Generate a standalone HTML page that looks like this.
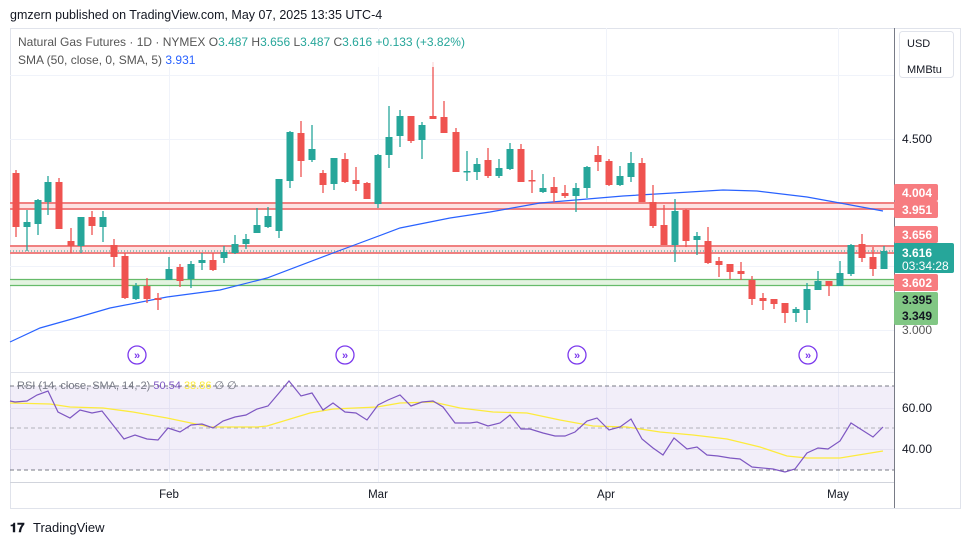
<!DOCTYPE html>
<html><head><meta charset="utf-8"><style>
html,body{margin:0;padding:0;background:#fff;width:970px;height:545px;overflow:hidden}
svg{display:block}
text{font-family:"Liberation Sans",sans-serif}
</style></head><body>
<svg width="970" height="545" viewBox="0 0 970 545" xmlns="http://www.w3.org/2000/svg">
<text x="10" y="19" font-size="12.5" fill="#131722">gmzern published on TradingView.com, May 07, 2025 13:35 UTC-4</text>
<rect x="10.5" y="28.5" width="950" height="480" fill="none" stroke="#e0e3eb"/>
<!-- grid -->
<g stroke="#f0f3fa" stroke-width="1">
<line x1="10" y1="75.5" x2="894" y2="75.5"/><line x1="10" y1="139.5" x2="894" y2="139.5"/><line x1="10" y1="203.5" x2="894" y2="203.5"/><line x1="10" y1="266.5" x2="894" y2="266.5"/><line x1="10" y1="330.5" x2="894" y2="330.5"/>
<line x1="169.5" y1="28" x2="169.5" y2="482"/><line x1="378.5" y1="28" x2="378.5" y2="482"/><line x1="606.5" y1="28" x2="606.5" y2="482"/><line x1="838.5" y1="28" x2="838.5" y2="482"/>
</g>
<!-- bands -->
<rect x="10" y="203" width="884" height="6" fill="#fde2e2"/>
<line x1="10" y1="203" x2="894" y2="203" stroke="#f08080" stroke-width="2"/>
<line x1="10" y1="209" x2="894" y2="209" stroke="#f08080" stroke-width="2"/>
<rect x="10" y="246" width="884" height="7" fill="#fde2e2"/>
<line x1="10" y1="246" x2="894" y2="246" stroke="#f08080" stroke-width="2"/>
<line x1="10" y1="253" x2="894" y2="253" stroke="#f08080" stroke-width="2"/>
<line x1="10" y1="251" x2="894" y2="251" stroke="#26a69a" stroke-width="1" stroke-dasharray="1,2"/>
<rect x="10" y="279" width="884" height="7" fill="#e3f3e0"/>
<line x1="10" y1="279.5" x2="894" y2="279.5" stroke="#66bb6a" stroke-width="1.3"/>
<line x1="10" y1="285.5" x2="894" y2="285.5" stroke="#66bb6a" stroke-width="1.3"/>
<!-- SMA -->
<polyline fill="none" stroke="#2962ff" stroke-width="1.2" points="10,342 40,328 72,319 110,308 167,297 220,290 267,278 333,253 400,228 450,218 490,212 540,203 623,196 673,193 723,190 757,191 807,197 840,203 883,211"/>
<!-- candles -->
<g id="c"></g>
<!-- arrows -->
<g fill="none" stroke="#7c3aed" stroke-width="1.3">
<circle cx="137" cy="355" r="9"/><circle cx="345" cy="355" r="9"/><circle cx="577" cy="355" r="9"/><circle cx="808" cy="355" r="9"/>
</g>
<g fill="#7c3aed" font-size="11" font-weight="bold" text-anchor="middle">
<text x="137" y="359">»</text><text x="345" y="359">»</text><text x="577" y="359">»</text><text x="808" y="359">»</text>
</g>
<!-- pane separator -->
<line x1="10" y1="372.5" x2="894" y2="372.5" stroke="#e0e3eb"/>
<!-- RSI -->
<rect x="10" y="386" width="884" height="84" fill="#7e57c2" fill-opacity="0.1"/>
<line x1="10" y1="408.5" x2="894" y2="408.5" stroke="#e4e0f0"/>
<line x1="10" y1="449.5" x2="894" y2="449.5" stroke="#e4e0f0"/>
<line x1="10" y1="386" x2="894" y2="386" stroke="#787b86" stroke-dasharray="4,3"/>
<line x1="10" y1="428" x2="894" y2="428" stroke="#9598a1" stroke-dasharray="4,3" stroke-opacity="0.7"/>
<line x1="10" y1="470" x2="894" y2="470" stroke="#787b86" stroke-dasharray="4,3"/>
<polyline fill="none" stroke="#fdeb3c" stroke-width="1.3" points="10,403 50,404 70,407 103,408 133,412 167,418 210,427 257,427 267,426 310,413 333,409 377,407 400,403 433,402 460,408 493,412 527,413 560,420 593,426 627,427 660,432 693,435 727,439 760,447 787,456 807,458 840,458 883,451"/>
<polyline fill="none" stroke="#7e57c2" stroke-width="1.2" points="10,401 15,402 27,401 37,395 48,391 58,412 70,418 80,410 92,413 102,411 113,425 124,439 135,435 147,439 158,440 168,428 180,432 191,425 202,424 213,428 223,421 235,417 246,415 257,409 268,406 279,393 289,381 301,396 312,393 323,410 333,403 345,412 356,413 367,420 378,405 388,400 400,395 411,406 422,402 433,401 443,407 455,423 470,423 477,422 488,426 500,423 510,415 521,429 530,429 543,433 555,436 565,436 575,432 587,421 597,418 609,430 620,427 631,419 642,439 653,448 663,455 674,438 687,449 697,447 707,455 718,456 730,458 740,459 752,467 773,469 785,472 795,469 807,453 818,448 828,449 840,441 851,423 862,430 873,437 883,427"/>
<text x="17" y="389" font-size="11" fill="#787b86">RSI (14, close, SMA, 14, 2) <tspan fill="#7e57c2">50.54</tspan> <tspan fill="#fdeb3c">38.86</tspan>  ∅  ∅</text>
<line x1="10" y1="482.5" x2="894" y2="482.5" stroke="#d1d4dc"/>
<!-- right axis -->
<line x1="894.5" y1="28" x2="894.5" y2="508" stroke="#787b86"/>
<rect x="899.5" y="31.5" width="54" height="46" rx="3" fill="#fff" stroke="#e0e3eb"/>
<text x="907" y="47" font-size="11" fill="#131722">USD</text>
<text x="907" y="73" font-size="11" fill="#131722">MMBtu</text>
<g font-size="12" fill="#131722">
<text x="902" y="143">4.500</text><text x="902" y="334" fill="#555">3.000</text>
<text x="902" y="412">60.00</text><text x="902" y="453">40.00</text>
</g>
<g font-size="12" font-weight="bold">
<rect x="894" y="184" width="44" height="17" rx="2" fill="#f77c80"/><text x="902" y="197" fill="#fff">4.004</text>
<rect x="894" y="201" width="44" height="17" rx="2" fill="#f77c80"/><text x="902" y="214" fill="#fff">3.951</text>
<rect x="894" y="226" width="44" height="17" rx="2" fill="#f77c80"/><text x="902" y="239" fill="#fff">3.656</text>
<rect x="894" y="243" width="60" height="30" rx="2" fill="#26a69a"/><text x="902" y="257" fill="#fff">3.616</text>
<text x="902" y="270" fill="#fff" font-weight="normal">03:34:28</text>
<rect x="894" y="274" width="44" height="17" rx="2" fill="#f77c80"/><text x="902" y="287" fill="#fff">3.602</text>
<rect x="894" y="292" width="44" height="33" rx="2" fill="#81c784"/><text x="902" y="304" fill="#131722">3.395</text><text x="902" y="320" fill="#131722">3.349</text>
</g>
<!-- time axis -->
<g font-size="11.5" fill="#131722" text-anchor="middle">
<text x="169" y="498">Feb</text><text x="378" y="498">Mar</text><text x="606" y="498">Apr</text><text x="838" y="498">May</text>
</g>
<!-- legend -->
<rect x="12" y="31" width="470" height="36" fill="#fff" fill-opacity="0.8"/>
<text x="18" y="46" font-size="12" fill="#555">Natural Gas Futures · 1D · NYMEX  O<tspan fill="#26a69a">3.487</tspan>  H<tspan fill="#26a69a">3.656</tspan>  L<tspan fill="#26a69a">3.487</tspan>  C<tspan fill="#26a69a">3.616</tspan>  <tspan fill="#26a69a">+0.133 (+3.82%)</tspan></text>
<text x="18" y="64" font-size="12" fill="#555">SMA (50, close, 0, SMA, 5)  <tspan fill="#2962ff">3.931</tspan></text>
<!-- logo -->
<text x="10" y="532" font-size="13" font-weight="bold" fill="#131722">𝟏𝟕</text>
<text x="33" y="532" font-size="13" fill="#131722">TradingView</text>
</svg>
<script>
var d=[[16,173,227,170,237],[27,227,222,210,251],[38,224,200,199,235],[48,202,182,176,215],[59,182,229,178,229],[71,241,246,228,253],[81,246,217,217,253],[92,217,226,211,235],[103,227,217,211,242],[114,245,257,239,267],[125,256,298,253,299],[136,299,286,283,300],[147,286,299,278,303],[158,298,300,293,310],[169,280,269,257,280],[180,267,281,264,287],[191,279,264,261,288],[202,263,260,253,270],[213,260,270,253,271],[224,258,252,246,263],[235,253,244,235,254],[246,244,239,234,249],[257,233,225,208,233],[268,227,216,207,228],[279,231,179,179,238],[290,181,132,131,188],[301,133,161,121,177],[312,160,149,125,162],[323,173,185,170,193],[334,184,158,158,190],[345,159,182,153,183],[356,180,184,167,191],[367,183,199,182,199],[378,204,155,154,208],[389,155,137,106,168],[400,136,116,110,147],[411,116,141,116,143],[422,140,125,122,159],[433,116,119,62,119],[444,117,133,101,133],[456,132,172,128,172],[467,172,171,151,181],[477,172,164,158,180],[488,160,176,148,178],[499,176,168,159,178],[510,169,149,143,170],[521,149,182,144,182],[532,180,181,170,193],[543,192,188,174,193],[554,187,193,177,202],[565,193,196,185,198],[576,196,188,183,212],[587,188,167,166,198],[598,155,162,146,171],[609,161,185,159,186],[620,185,176,166,186],[631,177,163,152,182],[642,163,202,158,202],[653,202,226,185,228],[664,225,245,205,245],[675,245,211,199,262],[686,210,241,209,247],[697,240,236,232,255],[708,241,263,227,264],[719,261,265,257,277],[730,264,272,264,279],[741,271,274,262,280],[752,280,299,276,305],[763,298,301,293,310],[774,299,304,299,309],[785,303,313,303,323],[796,313,309,307,322],[807,310,289,283,323],[818,290,281,271,290],[829,281,286,281,296],[840,286,273,261,286],[851,274,245,244,276],[862,244,258,234,262],[873,257,269,247,276],[884,269,251,246,269]];
var g=document.getElementById('c'),s='';
d.forEach(function(c){var up=c[2]<c[1],col=up?'#26a69a':'#ef5350',t=Math.min(c[1],c[2]),h=Math.max(1.5,Math.abs(c[1]-c[2]));
s+='<line x1="'+c[0]+'" y1="'+c[3]+'" x2="'+c[0]+'" y2="'+c[4]+'" stroke="'+col+'" stroke-width="1.3"/>';
s+='<rect x="'+(c[0]-3.5)+'" y="'+t+'" width="7" height="'+h+'" fill="'+col+'"/>';});
g.innerHTML=s;
</script>
</body></html>
